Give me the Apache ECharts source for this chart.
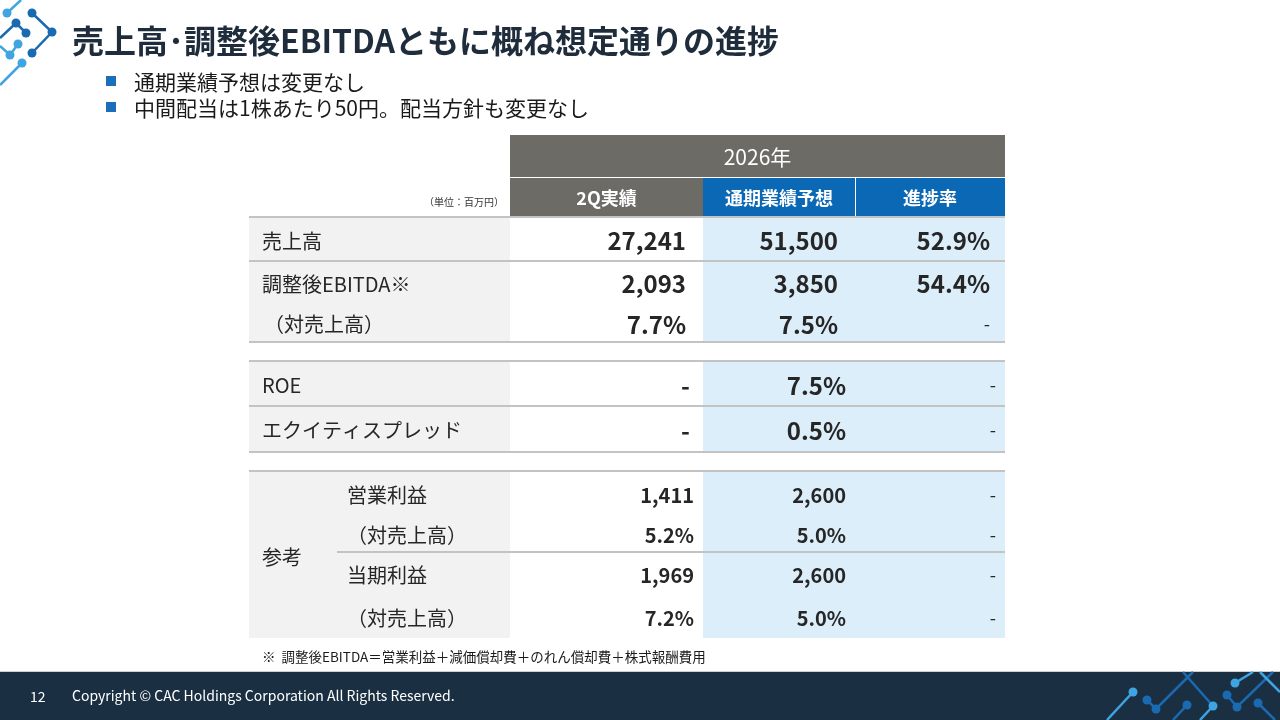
<!DOCTYPE html>
<html>
<head>
    <meta charset="utf-8">
    <style>
        html, body { margin: 0; padding: 0; background: #fff; }
        #main { width: 1280px; height: 720px; }
    </style>
    <script src="https://cdn.jsdelivr.net/npm/echarts@6/dist/echarts.min.js"></script>
</head>
<body>
    <div id="main"></div>
    <script type="text/javascript">
        // slide texts
        var titleText = '売上高･調整後EBITDAともに概ね想定通りの進捗';
        var bullets = ['通期業績予想は変更なし', '中間配当は1株あたり50円。配当方針も変更なし'];
        var yearLabel = '2026年';
        var columnLabels = ['2Q実績', '通期業績予想', '進捗率'];
        var unitLabel = '（単位：百万円）';
        var footnote = '※  調整後EBITDA＝営業利益＋減価償却費＋のれん償却費＋株式報酬費用';
        var pageNo = '12';
        var copyright = 'Copyright © CAC Holdings Corporation All Rights Reserved.';

        // table values
        var mainLabels = ['売上高', '調整後EBITDA※', '（対売上高）'];
        var mainActual = ['27,241', '2,093', '7.7%'];
        var mainForecast = ['51,500', '3,850', '7.5%'];
        var mainProgress = ['52.9%', '54.4%', '-'];

        var kpiLabels = ['ROE', 'エクイティスプレッド'];
        var kpiActual = ['-', '-'];
        var kpiForecast = ['7.5%', '0.5%'];
        var kpiProgress = ['-', '-'];

        var refGroup = '参考';
        var refLabels = ['営業利益', '（対売上高）', '当期利益', '（対売上高）'];
        var refActual = ['1,411', '5.2%', '1,969', '7.2%'];
        var refForecast = ['2,600', '5.0%', '2,600', '5.0%'];
        var refProgress = ['-', '-', '-', '-'];

        var FONT = '"Noto Sans CJK JP", "Noto Sans", sans-serif';
        var colX = [249, 510, 703, 855, 1005];
        var lineColor = '#c3c3c3';
        var labelBg = '#f2f2f2';
        var blueBg = '#ddeefb';
        var els = [];

        function rect(x, y, w, h, fill) {
            els.push({ type: 'rect', silent: true, shape: { x: x, y: y, width: w, height: h }, style: { fill: fill } });
        }
        function hline(x1, x2, y) {
            els.push({ type: 'line', silent: true, shape: { x1: x1, y1: y, x2: x2, y2: y }, style: { stroke: lineColor, lineWidth: 2 } });
        }
        function text(str, x, y, size, opt) {
            opt = opt || {};
            els.push({
                type: 'text', silent: true,
                style: {
                    text: str, x: x, y: y,
                    fontSize: size, fontFamily: FONT,
                    fontWeight: opt.bold ? 'bold' : 'normal',
                    fill: opt.color || '#262626',
                    align: opt.align || 'left', textAlign: opt.align || 'left',
                    verticalAlign: 'middle', textVerticalAlign: 'middle'
                }
            });
        }
        function circuit(pts, color, dots) {
            els.push({ type: 'polyline', silent: true, shape: { points: pts }, style: { stroke: color, lineWidth: 2.5, fill: null } });
            dots.forEach(function (d) {
                els.push({ type: 'circle', silent: true, shape: { cx: d[0], cy: d[1], r: d[2] || 4.5 }, style: { fill: color } });
            });
        }

        // title + bullets
        circuit([[7, 13], [21, 0]], '#3fa4e2', [[7, 13]]);
        circuit([[32, 13], [52, 32], [32, 53]], '#1a6ab2', [[32, 13], [52, 32], [32, 53]]);
        circuit([[0, 38], [16, 23], [26, 33]], '#1a6ab2', [[16, 23], [26, 33]]);
        circuit([[0, 46], [10, 55], [18, 44]], '#3fa4e2', [[10, 55], [18, 44]]);
        circuit([[0, 85], [22, 63]], '#3fa4e2', [[22, 63]]);
        text(titleText, 72, 41, 32, { bold: true, color: '#1e2c3c' });
        bullets.forEach(function (b, i) {
            rect(106, 76 + i * 26, 10, 10, '#1a6fb8');
            text(b, 134, 82 + i * 26, 21, { color: '#1a1a1a' });
        });

        // header
        rect(colX[1], 135, colX[4] - colX[1], 42, '#6c6b66');
        text(yearLabel, (colX[1] + colX[4]) / 2, 157, 21, { align: 'center', color: '#fff' });
        rect(colX[1], 178, colX[2] - colX[1], 39, '#6c6b66');
        rect(colX[2], 178, colX[3] - colX[2], 39, '#0b68b5');
        rect(colX[3] + 1, 178, colX[4] - colX[3] - 1, 39, '#0b68b5');
        columnLabels.forEach(function (c, i) {
            text(c, (colX[i + 1] + colX[i + 2]) / 2, 198, 18, { align: 'center', bold: true, color: '#fff' });
        });
        text(unitLabel, 504, 202, 10, { align: 'right', color: '#333' });

        // one block of rows
        function block(top, heights, labels, actual, forecast, progress, o) {
            var total = heights.reduce(function (a, b) { return a + b; }, 0);
            rect(colX[0], top, colX[1] - colX[0], total, labelBg);
            rect(colX[2], top, colX[4] - colX[2], total, blueBg);
            var y = top;
            heights.forEach(function (h, i) {
                var cy = y + h / 2 + 1.5;
                var indent = o.indent(i);
                text(labels[i], indent, cy, 20);
                var size = o.size(i);
                text(actual[i], o.right[0], cy, size, { align: 'right', bold: o.bold(i, 0) });
                text(forecast[i], o.right[1], cy, size, { align: 'right', bold: o.bold(i, 1) });
                text(progress[i], o.right[2], cy, progress[i] === '-' ? 18 : size, { align: 'right', bold: o.bold(i, 2) });
                y += h;
            });
            return total;
        }

        var mainH = [43, 43, 38];
        block(218, mainH, mainLabels, mainActual, mainForecast, mainProgress, {
            right: [686, 838, 990],
            indent: function (i) { return i === 2 ? 264 : 262; },
            size: function (i) { return 24; },
            bold: function (i, c) { return !(c === 2 && mainProgress[i] === '-'); }
        });
        hline(colX[0], colX[4], 217);
        hline(colX[0], colX[4], 261);
        hline(colX[0], colX[4], 342);

        var kpiH = [44, 46];
        block(362, kpiH, kpiLabels, kpiActual, kpiForecast, kpiProgress, {
            right: [690, 846, 996],
            indent: function () { return 262; },
            size: function () { return 24; },
            bold: function (i, c) { return c === 1 || c === 0; }
        });
        hline(colX[0], colX[4], 361);
        hline(colX[0], colX[4], 406);
        hline(colX[0], colX[4], 452);

        var refH = [43, 37, 43, 43];
        block(472, refH, refLabels, refActual, refForecast, refProgress, {
            right: [694, 846, 996],
            indent: function () { return 347; },
            size: function () { return 20; },
            bold: function (i, c) { return c < 2; }
        });
        text(refGroup, 262, 557, 20);
        hline(colX[0], colX[4], 471);
        hline(337, colX[4], 552);

        text(footnote, 262, 657, 13.5, { color: '#1a1a1a' });

        // footer band
        rect(0, 671, 1280, 1, '#cfcfcf');
        rect(0, 672, 1280, 48, '#1b2f43');
        text(pageNo, 30, 697, 14, { color: '#fff' });
        text(copyright, 72, 696, 14, { color: '#fff' });
        circuit([[1107, 720], [1133, 692]], '#3fa4e2', [[1133, 692]]);
        circuit([[1147, 700], [1156, 709], [1193, 672]], '#1a6ab2', [[1147, 700], [1156, 709]]);
        circuit([[1183, 672], [1213, 706]], '#1a6ab2', []);
        circuit([[1213, 706], [1200, 720]], '#3fa4e2', [[1213, 706]]);
        circuit([[1187, 705], [1173, 720]], '#1a6ab2', [[1187, 705]]);
        circuit([[1235, 683], [1253, 672]], '#3fa4e2', [[1235, 683]]);
        circuit([[1227, 695], [1237, 707], [1273, 672]], '#1a6ab2', [[1227, 695], [1237, 707]]);
        circuit([[1260, 672], [1280, 692]], '#3fa4e2', []);
        circuit([[1258, 703], [1275, 720]], '#1a6ab2', [[1258, 703]]);

        var myChart = echarts.init(document.getElementById('main'));
        myChart.setOption({
            backgroundColor: '#fff',
            animation: false,
            graphic: { elements: els }
        });
    </script>
</body>
</html>
